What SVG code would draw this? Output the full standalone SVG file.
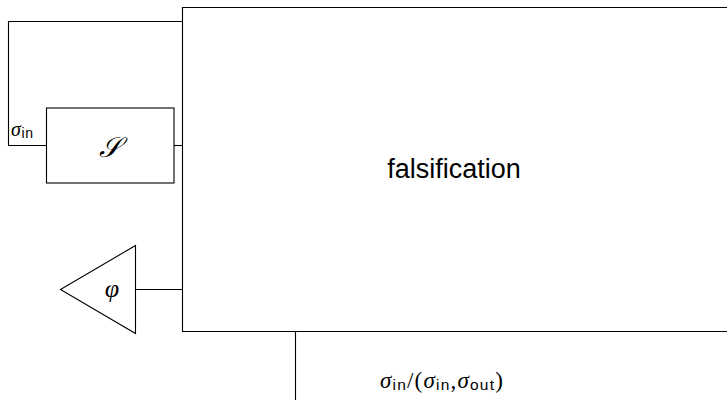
<svg xmlns="http://www.w3.org/2000/svg" width="727" height="400" viewBox="0 0 727 400">
  <style>
    .ln { fill: none; stroke: #000; stroke-width: 1.1; }
    .box { fill: #fff; stroke: #000; stroke-width: 1.1; }
    .sans { font-family: "Liberation Sans", "DejaVu Sans", sans-serif; fill: #000; }
    .math { font-family: "Liberation Serif", "DejaVu Serif", serif; font-style: italic; fill: #000; }
    .up { font-family: "Liberation Serif", "DejaVu Serif", serif; fill: #000; }
  </style>
  <rect width="727" height="400" fill="#fff"/>

  <g id="connectors">
    <!-- feedback loop from the falsifier back into S -->
    <polyline class="ln" points="182,21.5 8.5,21.5 8.5,145.5 46,145.5"/>
    <!-- S output into the falsifier -->
    <line class="ln" x1="174" y1="145.5" x2="182" y2="145.5"/>
    <!-- falsifier to the specification -->
    <line class="ln" x1="135.5" y1="289.5" x2="182" y2="289.5"/>
    <!-- result output -->
    <line class="ln" x1="295.5" y1="331.5" x2="295.5" y2="400"/>
  </g>

  <g id="falsification">
    <path class="ln" d="M727,7.5 H182.5 V331.5 H727"/>
    <text class="sans" x="454" y="178" font-size="27" text-anchor="middle">falsification</text>
  </g>

  <g id="system">
    <rect class="box" x="46.5" y="108" width="127.5" height="75"/>
    <text class="math" x="110" y="157" font-size="28" text-anchor="middle">𝒮</text>
  </g>

  <g id="spec">
    <polygon class="box" points="60.5,289.5 135.5,245.5 135.5,333.5"/>
    <text class="math" x="112" y="297" font-size="26" text-anchor="middle">φ</text>
  </g>

  <g id="labels">
    <text x="11" y="136" font-size="20" letter-spacing="0.6"><tspan class="math">σ</tspan><tspan class="sans" font-size="14" dy="2">in</tspan></text>
    <text x="380" y="388" font-size="23" letter-spacing="1.2"><tspan class="math">σ</tspan><tspan class="sans" font-size="15.5" dy="2">in</tspan><tspan class="up" dy="-2">/(</tspan><tspan class="math">σ</tspan><tspan class="sans" font-size="15.5" dy="2">in</tspan><tspan class="up" dy="-2">,</tspan><tspan class="math">σ</tspan><tspan class="sans" font-size="15.5" dy="2">out</tspan><tspan class="up" dy="-2">)</tspan></text>
  </g>
</svg>
